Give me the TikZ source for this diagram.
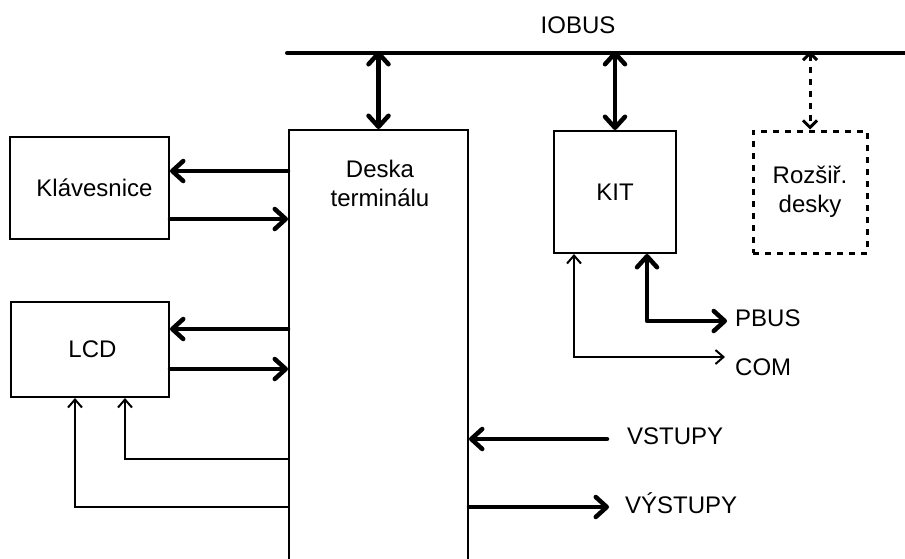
\documentclass[tikz,border=0pt]{standalone}
\usepackage{fontspec}
\setmainfont{Liberation Sans}
\usetikzlibrary{arrows.meta}
\begin{document}
\begin{tikzpicture}[x=1pt,y=-1pt,
  box/.style={draw,line width=2pt,rectangle,inner sep=0pt,font=\fontsize{24}{29}\selectfont,align=center},
  dbox/.style={box,dash pattern=on 6pt off 6pt,line width=3pt},
  lbl/.style={font=\fontsize{24}{29}\selectfont,inner sep=0pt,align=center},
  thk/.style={line width=4.5pt,line cap=round,line join=round,
    >={Straight Barb[length=11pt,width=20pt,round]}},
  thn/.style={line width=2pt,line join=miter,
    >={Straight Barb[length=8pt,width=14pt]}},
  dotl/.style={line width=3pt,dash pattern=on 6pt off 6pt,
    >={Straight Barb[length=7pt,width=14pt]}}]
\useasboundingbox (0,0) rectangle (905,558);
% bus
\coordinate (busL) at (287,53);
\coordinate (busR) at (910,53);
\draw[line width=4pt,line cap=round] (busL) -- (busR);
\node[lbl,anchor=base] (iobus) at (578,33) {IOBUS};
% boxes
\node[box,minimum width=179pt,minimum height=434pt] (deska) at (378.5,347) {};
\node[lbl] (dtext) at (380,183) {Deska\\terminálu};
\node[box,minimum width=159pt,minimum height=102pt] (kl) at (89.5,188) {\hspace*{10pt}Klávesnice};
\node[box,minimum width=158pt,minimum height=95pt] (lcd) at (90,349.5) {\hspace*{5pt}LCD};
\node[box,minimum width=122pt,minimum height=122pt] (kit) at (615,192) {KIT};
\node[dbox,minimum width=114pt,minimum height=122pt] (roz) at (810,192) {Rozšiř.\\desky};
% bus connections
\draw[thk,<->] ([yshift=2pt]deska.north |- busL) -- (deska.north);
\draw[thk,<->] ([yshift=2pt]kit.north |- busL) -- (kit.north);
\draw[dotl,<->] ([yshift=2pt]roz.north |- busL) -- (roz.north);
% keyboard
\draw[thk,->] (deska.west |- 0,171) -- (kl.east |- 0,171);
\draw[thk,->] (kl.east |- 0,219) -- (deska.west |- 0,219);
% LCD
\draw[thk,->] (deska.west |- 0,329) -- (lcd.east |- 0,329);
\draw[thk,->] (lcd.east |- 0,369) -- (deska.west |- 0,369);
\draw[thn,->] (deska.west |- 0,459) -| (lcd.south -| 125,0);
\draw[thn,->] (deska.west |- 0,507) -| (lcd.south -| 75,0);
% KIT outputs
\coordinate (pbusend) at (727,321);
\coordinate (comend) at (725,357);
\draw[thk,<->] (kit.south -| 647,0) |- (pbusend);
\draw[thn,<->] (kit.south -| 574,0) |- (comend);
\node[lbl,anchor=base west] (pbus) at (735,326.5) {PBUS};
\node[lbl,anchor=base west] (com) at (735,375.5) {COM};
% inputs / outputs
\coordinate (vstart) at (607,439);
\coordinate (vyend) at (609,507);
\draw[thk,->] (vstart) -- (deska.east |- vstart);
\draw[thk,->] (deska.east |- vyend) -- (vyend);
\node[lbl,anchor=base west] (vstupy) at (627,444) {VSTUPY};
\node[lbl,anchor=base west] (vystupy) at (625,513) {VÝSTUPY};
\end{tikzpicture}
\end{document}
